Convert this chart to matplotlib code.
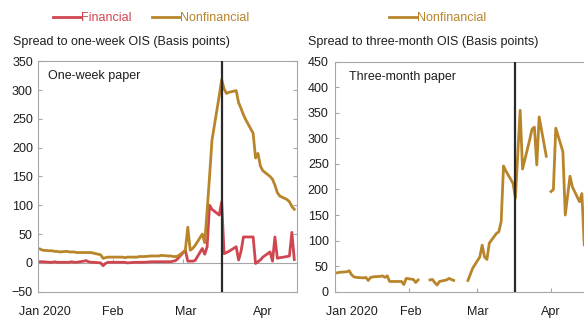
import numpy as np
import pandas as pd
import matplotlib
matplotlib.use("Agg")
import matplotlib.pyplot as plt
from matplotlib.lines import Line2D

plt.rcParams['font.family'] = ['Liberation Sans', 'DejaVu Sans']
plt.rcParams['font.size'] = 9

nan = np.nan

# business days, Jan 2 - Apr 16 2020
dates = pd.bdate_range('2020-01-02', '2020-04-16')

# one-week paper, spread to OIS (bp)
fin_1w = ([2, 2, 1, 1, 2, 1, 1, 1, 1, 2, 1, 1, 3, 4, 2, 1, 1, 0, -5, -1, 1, 1] +
          [1, 1, 1, 1, 0, 1, 1, 1, 1, 1, 2, 2, 2, 2, 2, 2, 2, 3, 4, 8] +
          [22, 3, 3, 3, 4, 25, 15, 28, 100, 93, 83, 106, 16, 18, 20, 28, 5, 20, 45, 45, 45, -1] +
          [2, 5, 10, 19, 3, 45, 8, 9, 11, 12, 53, 6])
nonfin_1w = ([24, 22, 21, 21, 20, 20, 19, 20, 19, 19, 19, 18, 18, 18, 18, 18, 17, 14, 8, 9, 10, 10] +
             [10, 10, 10, 9, 10, 10, 10, 11, 11, 11, 12, 12, 12, 12, 13, 12, 12, 11, 11, 12] +
             [22, 62, 22, 25, 30, 50, 35, 91, 150, 213, 290, 318, 302, 294, 296, 299, 278, 268, 257, 248, 225, 182] +
             [190, 168, 160, 150, 145, 135, 122, 116, 110, 106, 98, 93])

# three-month paper, nonfinancial only
nonfin_3m = ([37, 38, 39, 41, 33, 29, 28, 27, 28, 22, 28, 29, 30, 31, 28, 31, 20, 20, 20, 20, 14, 26] +
             [24, 18, 23, nan, nan, 23, 24, 18, 13, 20, 23, 26, 24, 22, nan, nan, nan, 22, 34, 46] +
             [68, 91, 68, 63, 95, 114, 117, 137, 246, 236, 212, 183, 270, 355, 240, 297, 318, 322, 248, 342, 265, nan] +
             [196, 200, 320, 274, 150, 188, 226, 205, 176, 192, 91, 90])

month_ticks = pd.to_datetime(['2020-01-01', '2020-02-01', '2020-03-01', '2020-04-01'])
month_labels = ['Jan 2020', 'Feb', 'Mar', 'Apr']
event_date = pd.Timestamp('2020-03-17')

red = '#cf4651'
gold = '#b8852a'
frame = '#a6a6a6'
txt = '#1e1e1e'

W, H = 584, 318
fig = plt.figure(figsize=(W / 100, H / 100), dpi=100)
ax1 = fig.add_axes([37.7 / W, 26.3 / H, 259 / W, 230.5 / H])
ax2 = fig.add_axes([335 / W, 26.3 / H, 254 / W, 230 / H])

ax1.plot(dates, np.array(fin_1w, float), color=red, lw=2)
ax1.plot(dates, np.array(nonfin_1w, float), color=gold, lw=2)
ax2.plot(dates, np.array(nonfin_3m, float), color=gold, lw=2)

x0, x1 = pd.Timestamp('2020-01-01'), pd.Timestamp('2020-04-17')
label_pos = {
    ax1: pd.to_datetime(['2020-01-04', '2020-02-01', '2020-03-02', '2020-04-03']),
    ax2: pd.to_datetime(['2020-01-08', '2020-02-02', '2020-03-01', '2020-04-01']),
}

for ax in (ax1, ax2):
    ax.set_xlim(x0, x1)
    ax.axvline(event_date, color='#2a2a2a', lw=1.6, zorder=3)
    for s in ax.spines.values():
        s.set_color(frame)
        s.set_linewidth(0.8)
    ax.tick_params(axis='y', direction='in', length=3, right=True,
                   color=frame, labelcolor=txt, labelsize=9)
    ax.xaxis.remove_overlapping_locs = False
    ax.set_xticks(month_ticks)
    ax.set_xticklabels([])
    ax.set_xticks(label_pos[ax], minor=True)
    ax.set_xticklabels(month_labels, minor=True)
    ax.tick_params(axis='x', which='minor', length=0, pad=10, labelcolor=txt, labelsize=9)
    ax.tick_params(axis='x', which='major', direction='in', length=3, color=frame)

ax1.set_ylim(-50, 350)
ax1.set_yticks(np.arange(-50, 351, 50))
ax1.tick_params(axis='y', pad=3.5)
ax1.tick_params(axis='x', which='major', length=0)
ax1.axhline(0, color=frame, lw=0.8, zorder=1)
ax1.plot(month_ticks, np.zeros(len(month_ticks)), ls='none', marker=2, ms=3,
         mew=0.8, color=frame, zorder=1)

ax2.set_ylim(0, 450)
ax2.set_yticks(np.arange(0, 451, 50))
ax2.tick_params(axis='y', pad=4.5)

ax1.text(0.041, 0.935, 'One-week paper', transform=ax1.transAxes,
         va='center', ha='left', fontsize=9, color=txt)
ax2.text(0.055, 0.935, 'Three-month paper', transform=ax2.transAxes,
         va='center', ha='left', fontsize=9, color=txt)

fig.text(13 / W, 1 - 42 / H, 'Spread to one-week OIS (Basis points)',
         va='center', ha='left', fontsize=9, color=txt)
fig.text(308 / W, 1 - 42 / H, 'Spread to three-month OIS (Basis points)',
         va='center', ha='left', fontsize=9, color=txt)

h_fin = Line2D([], [], color=red, lw=2)
h_non = Line2D([], [], color=gold, lw=2)
leg1 = fig.legend([h_fin, h_non], ['Financial', 'Nonfinancial'], loc='center',
                  bbox_to_anchor=(151 / W, 1 - 18 / H), ncol=2, frameon=False,
                  handlelength=2.2, handletextpad=0.05, columnspacing=1.6,
                  fontsize=9, borderpad=0)
leg2 = fig.legend([h_non], ['Nonfinancial'], loc='center',
                  bbox_to_anchor=(438 / W, 1 - 18 / H), ncol=1, frameon=False,
                  handlelength=2.2, handletextpad=0.05, fontsize=9, borderpad=0)
for t, c in zip(leg1.get_texts(), [red, gold]):
    t.set_color(c)
leg2.get_texts()[0].set_color(gold)

fig.savefig('out.png', dpi=100)
